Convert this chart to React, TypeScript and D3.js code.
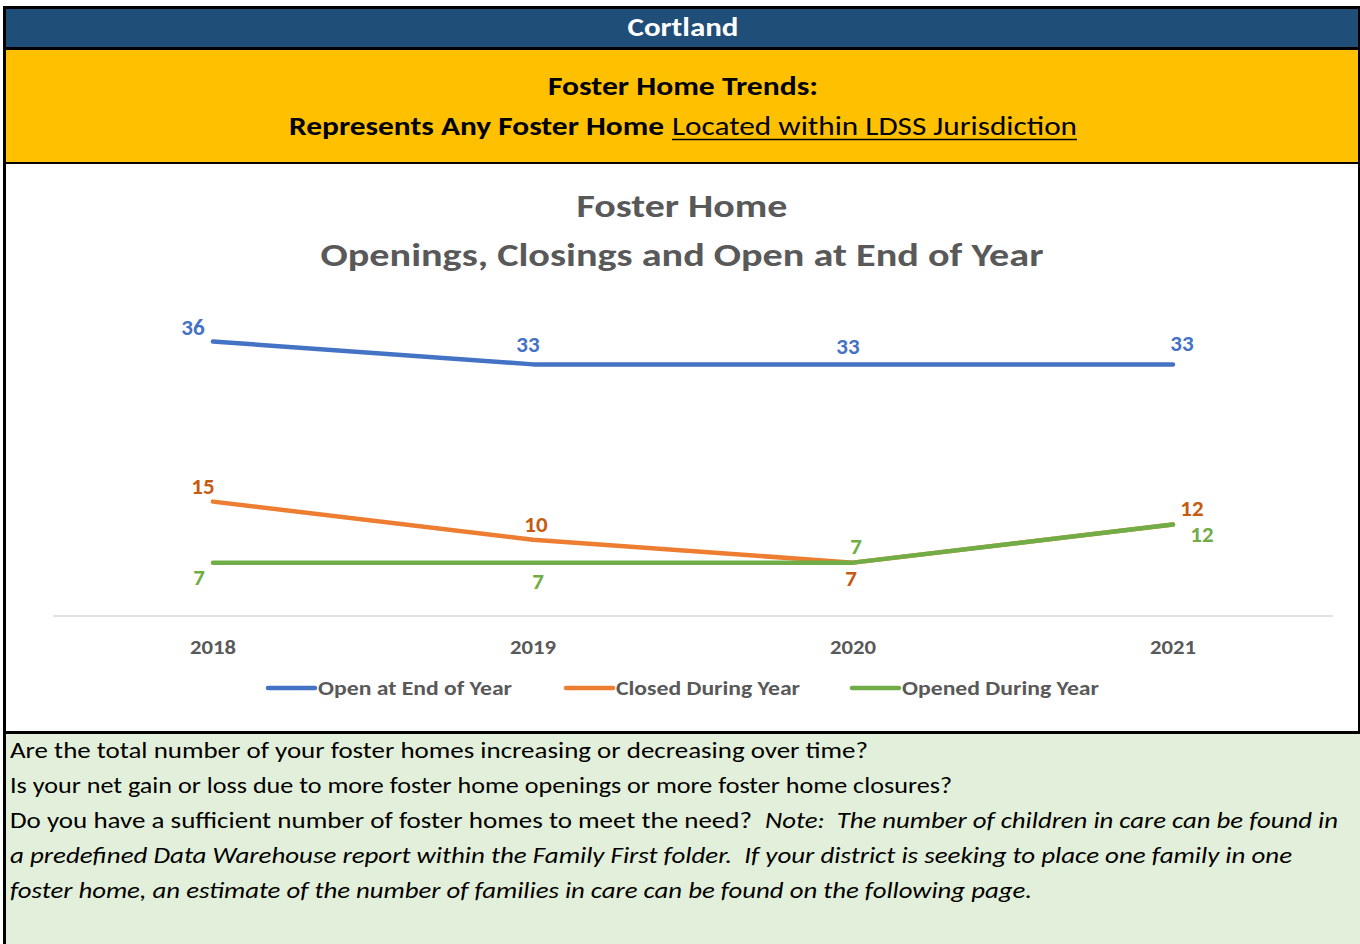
import React, { useEffect, useRef } from "react"
import * as d3 from "d3"

const years = ["2018", "2019", "2020", "2021"]
const openAtEnd = [36, 33, 33, 33]
const closedDuring = [15, 10, 7, 12]
const openedDuring = [7, 7, 7, 12]
const seriesNames = ["Open at End of Year", "Closed During Year", "Opened During Year"]

const questionLines = [
  "Are the total number of your foster homes increasing or decreasing over time?",
  "Is your net gain or loss due to more foster home openings or more foster home closures?",
]
const needQuestion = "Do you have a sufficient number of foster homes to meet the need?"
const noteLines = [
  "Note:  The number of children in care can be found in",
  "a predefined Data Warehouse report within the Family First folder.  If your district is seeking to place one family in one",
  "foster home, an estimate of the number of families in care can be found on the following page.",
]

const FONT = "Carlito, Calibri, Lato, 'Open Sans', sans-serif"

function App() {
  const ref = useRef(null)

  useEffect(() => {
    const svg = d3.select(ref.current)
    svg.selectAll("*").remove()

    // background blocks
    svg.append("rect").attr("x", 3).attr("y", 6).attr("width", 1357).attr("height", 940).attr("fill", "black")
    svg.append("rect").attr("x", 6).attr("y", 9).attr("width", 1352).attr("height", 38).attr("fill", "#1F4E79")
    svg.append("rect").attr("x", 6).attr("y", 50).attr("width", 1352).attr("height", 112).attr("fill", "#FFC000")
    svg.append("rect").attr("x", 6).attr("y", 164).attr("width", 1352).attr("height", 567).attr("fill", "white")
    svg.append("rect").attr("x", 6).attr("y", 734).attr("width", 1354).attr("height", 212).attr("fill", "#E2EFDA")

    svg.append("text")
      .attr("x", 683).attr("y", 36)
      .attr("text-anchor", "middle")
      .attr("font-family", FONT).attr("font-weight", "bold").attr("font-size", 26)
      .attr("fill", "white")
      .attr("textLength", 111).attr("lengthAdjust", "spacingAndGlyphs")
      .text("Cortland")

    svg.append("text")
      .attr("x", 683).attr("y", 95)
      .attr("text-anchor", "middle")
      .attr("font-family", FONT).attr("font-weight", "bold").attr("font-size", 26)
      .attr("fill", "black")
      .attr("textLength", 270).attr("lengthAdjust", "spacingAndGlyphs")
      .text("Foster Home Trends:")

    svg.append("text")
      .attr("x", 289).attr("y", 135)
      .attr("font-family", FONT).attr("font-weight", "bold").attr("font-size", 26)
      .attr("fill", "black")
      .attr("textLength", 375).attr("lengthAdjust", "spacingAndGlyphs")
      .text("Represents Any Foster Home")

    svg.append("text")
      .attr("x", 672).attr("y", 135)
      .attr("font-family", FONT).attr("font-size", 26)
      .attr("fill", "black")
      .attr("textLength", 405).attr("lengthAdjust", "spacingAndGlyphs")
      .text("Located within LDSS Jurisdiction")
    svg.append("line")
      .attr("x1", 672).attr("x2", 1077).attr("y1", 139.5).attr("y2", 139.5)
      .attr("stroke", "black").attr("stroke-width", 1.6)

    // chart title
    svg.append("text")
      .attr("x", 682).attr("y", 217)
      .attr("text-anchor", "middle")
      .attr("font-family", FONT).attr("font-weight", "bold").attr("font-size", 32)
      .attr("fill", "#595959")
      .attr("textLength", 211).attr("lengthAdjust", "spacingAndGlyphs")
      .text("Foster Home")
    svg.append("text")
      .attr("x", 682).attr("y", 266)
      .attr("text-anchor", "middle")
      .attr("font-family", FONT).attr("font-weight", "bold").attr("font-size", 32)
      .attr("fill", "#595959")
      .attr("textLength", 723).attr("lengthAdjust", "spacingAndGlyphs")
      .text("Openings, Closings and Open at End of Year")

    const xScale = d3.scaleBand().domain(years).range([53, 1333])
    const xPos = d => xScale(d) + xScale.bandwidth() / 2
    const yScale = d3.scaleLinear().domain([0, 40]).range([616, 311])

    svg.append("line")
      .attr("x1", 53).attr("x2", 1333)
      .attr("y1", yScale(0)).attr("y2", yScale(0))
      .attr("stroke", "#D9D9D9").attr("stroke-width", 1.5)

    svg.selectAll(".year")
      .data(years)
      .enter()
      .append("text")
      .attr("class", "year")
      .attr("x", d => xPos(d))
      .attr("y", 654)
      .attr("text-anchor", "middle")
      .attr("font-family", FONT).attr("font-weight", "bold").attr("font-size", 21)
      .attr("fill", "#595959")
      .attr("textLength", 46).attr("lengthAdjust", "spacingAndGlyphs")
      .text(d => d)

    const series = [
      { name: seriesNames[0], values: openAtEnd, line: "#4472C4", label: "#4472C4",
        offsets: [[-20, -15], [-5, -20], [-5, -18], [9, -21]] },
      { name: seriesNames[1], values: closedDuring, line: "#ED7D31", label: "#C55A11",
        offsets: [[-10, -16], [3, -16], [-2, 15], [19, -17]] },
      { name: seriesNames[2], values: openedDuring, line: "#70AD47", label: "#70AD47",
        offsets: [[-14, 14], [5, 18], [3, -17], [29, 9]] },
    ]

    const lineGen = d3.line()
      .x((d, i) => xPos(years[i]))
      .y(d => yScale(d))

    series.forEach(s => {
      svg.append("path")
        .attr("d", lineGen(s.values))
        .attr("fill", "none")
        .attr("stroke", s.line)
        .attr("stroke-width", 4.5)
        .attr("stroke-linecap", "round")
        .attr("stroke-linejoin", "round")
    })

    series.forEach(s => {
      svg.selectAll(null)
        .data(s.values)
        .enter()
        .append("text")
        .attr("x", (d, i) => xPos(years[i]) + s.offsets[i][0])
        .attr("y", (d, i) => yScale(d) + s.offsets[i][1])
        .attr("dy", "0.35em")
        .attr("text-anchor", "middle")
        .attr("font-family", FONT).attr("font-weight", 900).attr("font-size", 23)
        .attr("fill", s.label)
        .text(d => d)
    })

    // legend
    const legendX = [268, 566, 852]
    const legendW = [194, 184, 197]
    series.forEach((s, i) => {
      svg.append("line")
        .attr("x1", legendX[i]).attr("x2", legendX[i] + 47)
        .attr("y1", 688).attr("y2", 688)
        .attr("stroke", s.line).attr("stroke-width", 4.5).attr("stroke-linecap", "round")
      svg.append("text")
        .attr("x", legendX[i] + 50).attr("y", 695)
        .attr("font-family", FONT).attr("font-weight", "bold").attr("font-size", 20)
        .attr("fill", "#595959")
        .attr("textLength", legendW[i]).attr("lengthAdjust", "spacingAndGlyphs")
        .text(s.name)
    })

    // questions
    const textStyle = sel => sel
      .attr("font-family", FONT).attr("font-size", 22).attr("fill", "black")
      .attr("lengthAdjust", "spacingAndGlyphs")
      .style("white-space", "pre")

    svg.append("text").call(textStyle)
      .attr("x", 10).attr("y", 758).attr("textLength", 858).text(questionLines[0])
    svg.append("text").call(textStyle)
      .attr("x", 10).attr("y", 793).attr("textLength", 942).text(questionLines[1])
    svg.append("text").call(textStyle)
      .attr("x", 10).attr("y", 828).attr("textLength", 742).text(needQuestion)
    svg.append("text").call(textStyle)
      .attr("x", 765).attr("y", 828).attr("textLength", 573)
      .attr("font-style", "italic").text(noteLines[0])
    svg.append("text").call(textStyle)
      .attr("x", 10).attr("y", 863).attr("textLength", 1282)
      .attr("font-style", "italic").text(noteLines[1])
    svg.append("text").call(textStyle)
      .attr("x", 10).attr("y", 898).attr("textLength", 1022)
      .attr("font-style", "italic").text(noteLines[2])
  }, [])

  return (
    <svg
      ref={ref}
      width={1360}
      height={944}
      style={{ position: "absolute", left: 0, top: 0, display: "block" }}
    />
  )
}

export default App
